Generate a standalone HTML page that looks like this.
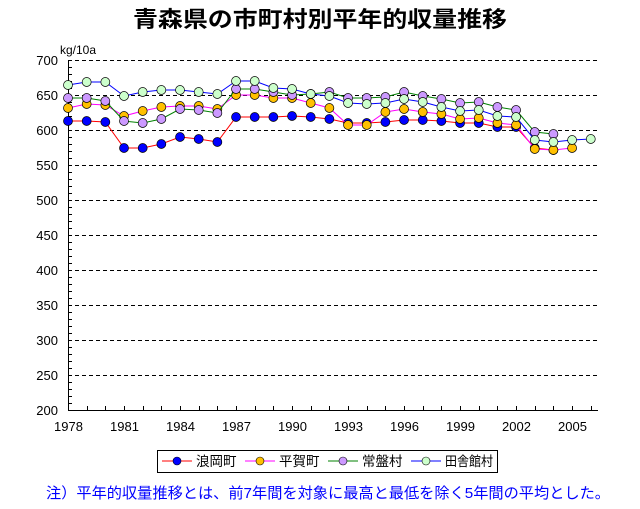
<!DOCTYPE html>
<html><head><meta charset="utf-8"><style>
body{margin:0;background:#fff;}
svg text{font-family:"Liberation Sans","Noto Sans CJK JP",sans-serif;}
</style></head><body>
<svg width="640" height="504" xmlns="http://www.w3.org/2000/svg">
<text x="133" y="27" font-size="22" font-weight="bold" fill="#000" textLength="374" lengthAdjust="spacingAndGlyphs">青森県の市町村別平年的収量推移</text>
<text x="60" y="54" font-size="12">kg/10a</text>
<g id="grid" stroke="#000" stroke-dasharray="4,3" stroke-width="1"></g>
<g id="axes"></g>
<g id="series"></g>
<rect x="157.5" y="450.5" width="340" height="22" fill="#fff" stroke="#000"/>
<g font-size="13.5">
<line x1="162" y1="461" x2="192" y2="461" stroke="red"/><circle cx="177" cy="461" r="4" fill="blue" stroke="#000" stroke-width="0.6"/><text x="196" y="466">浪岡町</text>
<line x1="245" y1="461" x2="275" y2="461" stroke="magenta"/><circle cx="260" cy="461" r="4" fill="#ffc000" stroke="#000" stroke-width="0.6"/><text x="279" y="466">平賀町</text>
<line x1="328" y1="461" x2="358" y2="461" stroke="green"/><circle cx="343" cy="461" r="4" fill="#cc99ff" stroke="#000" stroke-width="0.6"/><text x="362" y="466">常盤村</text>
<line x1="411" y1="461" x2="441" y2="461" stroke="blue"/><circle cx="426" cy="461" r="4" fill="#ccffcc" stroke="#000" stroke-width="0.6"/><text x="445" y="466" textLength="48" lengthAdjust="spacingAndGlyphs">田舎館村</text>
</g>
<text x="46" y="498" font-size="15" fill="#0000ff" textLength="564" lengthAdjust="spacingAndGlyphs">注）平年的収量推移とは、前7年間を対象に最高と最低を除く5年間の平均とした。</text>
</svg>
<script>
const NS="http://www.w3.org/2000/svg";
function el(p,t,a){const e=document.createElementNS(NS,t);for(const k in a)e.setAttribute(k,a[k]);p.appendChild(e);return e;}
const g=document.getElementById('grid'),ax=document.getElementById('axes'),s=document.getElementById('series');
for(let v=250;v<=700;v+=50){const y=60+(700-v)*0.7;el(g,'line',{x1:68,x2:598,y1:y+0.5,y2:y+0.5});}
for(let v=200;v<=700;v+=50){const y=60+(700-v)*0.7;const t=el(ax,'text',{x:58,y:y+5,'text-anchor':'end','font-size':13});t.textContent=v;}
el(ax,'line',{x1:68.5,x2:68.5,y1:60,y2:410,stroke:'#000'});
el(ax,'line',{x1:68,x2:598,y1:410.5,y2:410.5,stroke:'#000'});
for(let v=200;v<=700;v+=10){const y=Math.round(60+(700-v)*0.7)+0.5;el(ax,'line',{x1:68,x2:72,y1:y,y2:y,stroke:'#000'});}
for(let i=0;i<=28;i++){const x=Math.round(68+i*18.67)+0.5;el(ax,'line',{x1:x,x2:x,y1:410,y2:406,stroke:'#000'});if(i%3==0&&i<=27){const t=el(ax,'text',{x:x,y:431,'text-anchor':'middle','font-size':13});t.textContent=1978+i;}}
const data=[
['red','blue',[121,121,122,148,148,144,137,139,142,117,117,117,116,117,119,123,123,122,120,120,121,123,123,127,127,148,150,null,null]],
['magenta','#ffc000',[108,104,105,116,111,107,106,106,109,95,95,98,98,103,108,125,125,112,109,112,114,119,118,123,125,149,150,148,null]],
['green','#cc99ff',[98,98,101,121,123,119,109,110,113,89,89,92,95,94,92,98,98,97,92,96,99,103,102,107,110,132,134,null,null]],
['blue','#ccffcc',[85,82,82,96,92,90,90,92,94,81,81,88,89,94,96,103,104,103,99,102,107,111,110,116,117,140,142,140,139]]
];
for(const [lc,fc,ys] of data){let pts=[];ys.forEach((y,i)=>{if(y!=null)pts.push([68+i*18.67,y]);});
el(s,'polyline',{points:pts.map(p=>p.join(',')).join(' '),fill:'none',stroke:lc,'stroke-width':1});
for(const p of pts)el(s,'circle',{cx:p[0],cy:p[1],r:4.5,fill:fc,stroke:'#000','stroke-width':0.7});}
</script>
</body></html>
